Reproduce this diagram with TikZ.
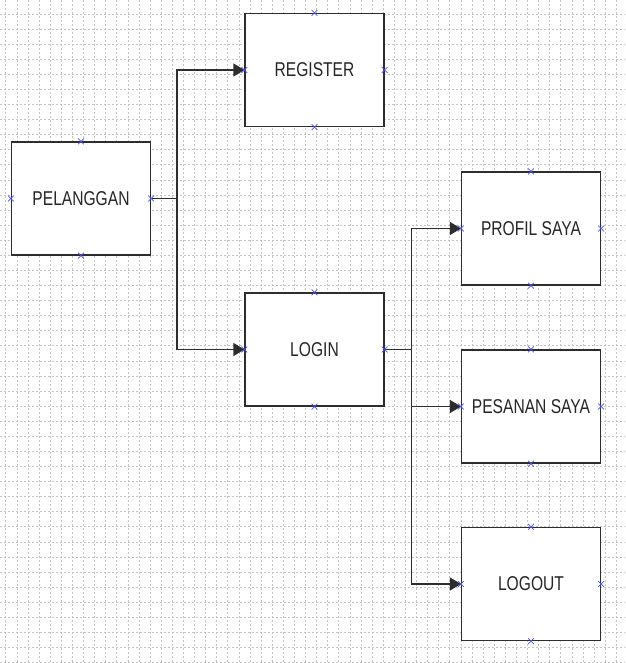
\documentclass[tikz,border=0pt]{standalone}
\usepackage{fontspec}
\setmainfont[FakeStretch=0.78]{Liberation Sans}
\usetikzlibrary{arrows.meta,shapes.misc}
\definecolor{gridc}{RGB}{195,195,195}
\definecolor{linec}{RGB}{45,45,45}
\definecolor{markc}{RGB}{80,80,245}
\tikzset{
  box/.style={draw=linec, line width=1.2pt, fill=white, minimum width=139pt, minimum height=113pt, inner sep=0pt, text=black!85, font=\fontsize{20}{24}\selectfont},
  conn/.style={draw=linec, line width=1.3pt},
  arr/.style={conn, -{Triangle[length=11pt,width=13pt]}},
  xm/.style={cross out, draw=markc, line width=0.8pt, minimum size=5pt, inner sep=0pt}
}
\begin{document}
\begin{tikzpicture}[x=1pt,y=-1pt]
\useasboundingbox (0,0) rectangle (625,663);
\fill[white] (0,0) rectangle (625,663);
% grid
\foreach \i in {0,...,56} {
  \draw[gridc, line width=0.6pt, dash pattern=on 2pt off 2pt] ({5.7+11.1*\i},0) -- ({5.7+11.1*\i},663);
}
\foreach \j in {0,...,43} {
  \draw[gridc, line width=0.6pt, dash pattern=on 2pt off 2pt] (0,{14+15.08*\j}) -- (625,{14+15.08*\j});
}
% boxes
\node[box] (pel) at (81,198.5) {PELANGGAN};
\node[box] (reg) at (314.5,70) {REGISTER};
\node[box] (login) at (314.5,349.5) {LOGIN};
\node[box] (profil) at (531,228.5) {PROFIL SAYA};
\node[box] (pesanan) at (531,406.5) {PESANAN SAYA};
\node[box] (logout) at (531,584) {LOGOUT};
% connectors
\draw[conn] (pel.east) -- ++(26,0) coordinate (j1);
\draw[arr] (j1) |- (reg.west);
\draw[arr] (j1) |- (login.west);
\draw[conn] (login.east) -- ++(27,0) coordinate (j2);
\draw[arr] (j2) |- (profil.west);
\draw[arr] (j2) |- (pesanan.west);
\draw[arr] (j2) |- (logout.west);
% connection markers
\foreach \n in {pel,reg,login,profil,pesanan,logout} {
  \foreach \a in {north,south,east,west} {
    \node[xm] at (\n.\a) {};
  }
}
\end{tikzpicture}
\end{document}
